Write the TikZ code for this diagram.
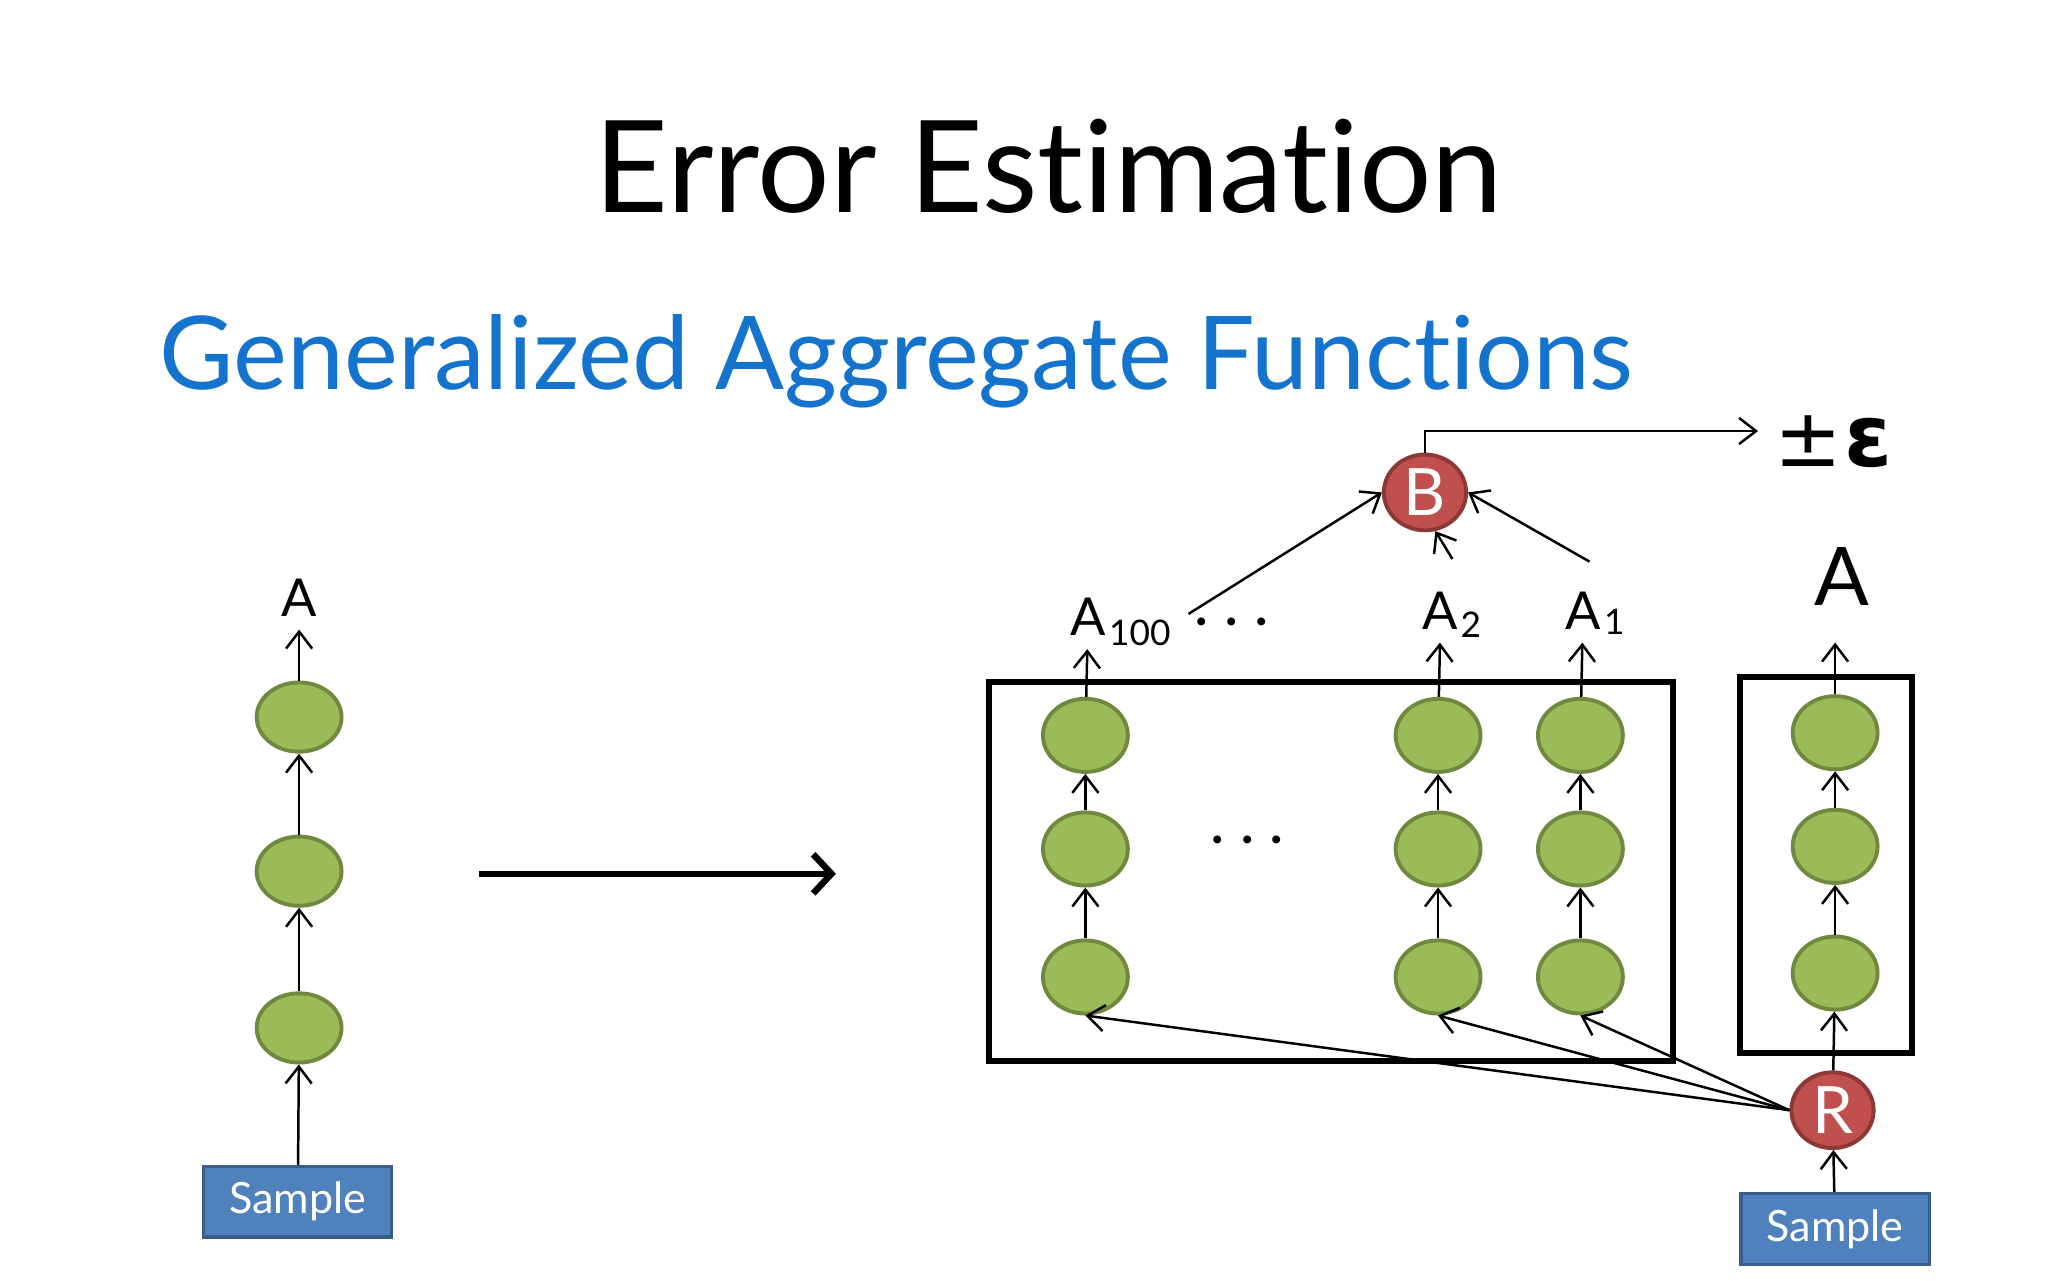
\documentclass[tikz,border=0pt]{standalone}
\usepackage{fontspec}
\setmainfont{Lato}[Ligatures=CommonOff]
\newfontfamily\symfont{DejaVu Sans}
\usetikzlibrary{arrows.meta,shapes.geometric}
\definecolor{gfill}{RGB}{155,187,89}
\definecolor{gline}{RGB}{113,137,63}
\definecolor{rfill}{RGB}{192,80,77}
\definecolor{rline}{RGB}{140,56,54}
\definecolor{bfill}{RGB}{79,129,189}
\definecolor{bline}{RGB}{56,93,138}
\definecolor{subblue}{RGB}{20,115,205}
\begin{document}
\begin{tikzpicture}[x=1pt,y=-1pt,
  greenell/.style={ellipse, draw=gline, fill=gfill, line width=3pt, minimum width=65pt, minimum height=53pt, inner sep=0pt},
  redell/.style={ellipse, draw=rline, fill=rfill, line width=3pt, minimum width=63pt, minimum height=58pt, inner sep=0pt, text=white, font=\fontsize{50}{50}\selectfont},
  samplebox/.style={rectangle, draw=bline, fill=bfill, line width=2.5pt, minimum width=144pt, minimum height=54pt, inner sep=0pt, text=white, font=\fontsize{33}{33}\selectfont},
  frame/.style={draw=black, line width=4.5pt, inner sep=0pt},
  arr/.style={line width=1.9pt, -{Straight Barb[length=13pt,width=20pt]}},
  lab/.style={font=\fontsize{40}{40}\selectfont, inner sep=10pt, anchor=south},
  sublab/.style={font=\fontsize{27}{27}\selectfont, inner sep=0pt, anchor=base west},
  dots/.style={font=\fontsize{40}{40}\selectfont\bfseries, inner sep=0pt}]
\useasboundingbox (0,0) rectangle (1568,980);
% titles
\node[anchor=base, inner sep=0pt, font=\fontsize{98}{98}\selectfont] (title) at (803,163) {Error Estimation};
\node[anchor=base west, inner sep=0pt, text=subblue, font=\fontsize{78}{78}\selectfont] (subtitle) at (122,298) {Generalized Aggregate Functions};
% left column
\node[greenell] (l1) at (229,549) {};
\node[greenell] (l2) at (229,667) {};
\node[greenell] (l3) at (229,787) {};
\node[samplebox] (ls) at (228,920) {Sample};
\node[lab] (la) at (229,482) {A};
\draw[arr] (ls) -- (l3);
\draw[arr] (l3) -- (l2);
\draw[arr] (l2) -- (l1);
\draw[arr] (l1) -- (la);
% big arrow
\coordinate (bs) at (367,669);
\coordinate (be) at (640,669);
\draw[line width=5pt, -{Straight Barb[length=14pt,width=30pt]}] (bs) -- (be);
% big box
\node[frame, minimum width=524pt, minimum height=290pt] (bigbox) at (1019,667) {};
\foreach \c/\x in {1/831,2/1101,3/1210}{
  \node[greenell, minimum height=56pt] (e\c1) at (\x,563) {};
  \node[greenell, minimum height=56pt] (e\c2) at (\x,650) {};
  \node[greenell, minimum height=56pt] (e\c3) at (\x,748) {};
  \draw[arr] (e\c3) -- (e\c2);
  \draw[arr] (e\c2) -- (e\c1);
}
\node[dots] (mdots) at (955,643) {.\,\,.\,\,.};
% labels A_i
\node[lab] (a100) at (833,497) {A};
\node[sublab] (s100) at (849,494) {100};
\node[lab] (a2) at (1103,492) {A};
\node[sublab] (s2) at (1118,488) {2};
\node[lab] (a1) at (1212,492) {A};
\node[sublab] (s1) at (1228,486) {1};
\node[dots] (tdots) at (943,476) {.\,\,.\,\,.};
\draw[arr] (e11) -- (a100);
\draw[arr] (e21) -- (a2);
\draw[arr] (e31) -- (a1);
% right column
\node[frame, minimum width=132pt, minimum height=288pt] (rbox) at (1398,662) {};
\node[greenell, minimum height=56pt] (f1) at (1405,561) {};
\node[greenell, minimum height=56pt] (f2) at (1405,648) {};
\node[greenell, minimum height=56pt] (f3) at (1405,745) {};
\node[lab, font=\fontsize{62}{62}\selectfont, inner sep=0pt] (ra) at (1410,464) {A};
\coordinate (rat) at (1405,492);
\draw[arr] (f3) -- (f2);
\draw[arr] (f2) -- (f1);
\draw[arr] (f1) -- (rat);
% B node
\node[redell] (B) at (1091,377) {B};
\coordinate (c100) at (910,470);
\coordinate (c2) at (1112,428);
\coordinate (c1) at (1217,430);
\draw[arr] (c100) -- (B.west);
\draw[arr] (c2) -- (B.-75);
\draw[arr] (c1) -- (B.east);
\node[inner sep=0pt, anchor=base west] (eps) at (1358,357) {{\symfont\fontsize{62}{62}\selectfont ±}\hspace{2pt}{\symfont\bfseries\fontsize{66}{66}\selectfont ε}};
\coordinate (epsin) at (1346,330);
\draw[arr] (B.north) |- (epsin);
% R node
\node[redell] (R) at (1403,850) {R};
\node[samplebox] (rs) at (1405,941) {Sample};
\draw[arr] (rs) -- (R);
\draw[arr] (R) -- (f3);
\draw[arr] (R.west) -- (e13.south);
\draw[arr] (R.west) -- (e23.south);
\draw[arr] (R.west) -- (e33.south);
\end{tikzpicture}
\end{document}
